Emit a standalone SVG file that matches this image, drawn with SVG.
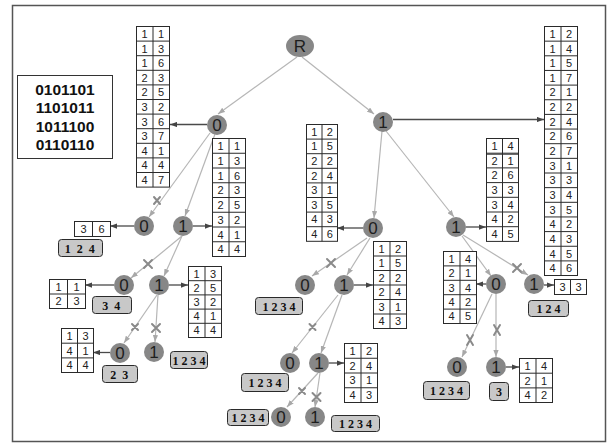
<svg xmlns="http://www.w3.org/2000/svg" width="608" height="444" viewBox="0 0 608 444">
<defs>
<marker id="ag" viewBox="0 0 8 6" refX="8" refY="3" markerWidth="7" markerHeight="5.5" markerUnits="userSpaceOnUse" orient="auto"><path d="M0,0L8,3L0,6z" fill="#a8a8a8"/></marker>
<marker id="ad" viewBox="0 0 8 6" refX="8" refY="3" markerWidth="7" markerHeight="5.5" markerUnits="userSpaceOnUse" orient="auto"><path d="M0,0L8,3L0,6z" fill="#444"/></marker>
<style>
.e{stroke:#b6b6b6;stroke-width:1.2;fill:none;marker-end:url(#ag)}
.a{stroke:#4a4a4a;stroke-width:1.3;fill:none;marker-end:url(#ad)}
.x{stroke:#8a8a8a;stroke-width:2;fill:none;stroke-linecap:round}
.n{fill:#878787}
.nt{font-family:"Liberation Sans",Arial,sans-serif;font-size:17px;fill:#1e1e1e;text-anchor:middle}
.tb{fill:#fff;stroke:#2a2a2a;stroke-width:1}
.gl{stroke:#2a2a2a;stroke-width:1;fill:none}
.c{font-family:"Liberation Sans",Arial,sans-serif;font-size:11px;fill:#222;text-anchor:middle}
.lb{fill:#c8c8c8;stroke:#2a2a2a;stroke-width:1}
.lt{font-family:"Liberation Serif","Times New Roman",serif;font-weight:bold;font-size:12px;fill:#111;text-anchor:middle}
.bt{font-family:"Liberation Sans",Arial,sans-serif;font-weight:bold;font-size:15.5px;fill:#111;text-anchor:middle}
</style>
</defs>
<rect x="0" y="0" width="608" height="444" fill="#fff"/>
<rect x="12.5" y="5.5" width="593" height="436" fill="none" stroke="#555" stroke-width="1.5"/>

<g id="binary">
<rect x="17.5" y="75.5" width="95" height="83" fill="#fff" stroke="#333" stroke-width="1"/>
<text class="bt" x="65" y="95">0101101</text>
<text class="bt" x="65" y="113.3">1101011</text>
<text class="bt" x="65" y="131.6">1011100</text>
<text class="bt" x="65" y="150">0110110</text>
</g>

<g id="connectors">
<line class="e" x1="297" y1="57" x2="218" y2="114"/>
<line class="e" x1="302" y1="57" x2="374" y2="114"/>
<line class="e" x1="210" y1="133" x2="149" y2="217"/>
<line class="e" x1="215" y1="134" x2="185" y2="216"/>
<line class="e" x1="182" y1="236" x2="131" y2="278"/>
<line class="e" x1="182" y1="236" x2="164" y2="276"/>
<line class="e" x1="157" y1="295" x2="124" y2="343"/>
<line class="e" x1="158" y1="295" x2="155" y2="342"/>
<line class="e" x1="382" y1="131" x2="374" y2="218"/>
<line class="e" x1="386" y1="131" x2="454" y2="217"/>
<line class="e" x1="367" y1="238" x2="312" y2="276"/>
<line class="e" x1="370" y1="238" x2="347" y2="275"/>
<line class="e" x1="338" y1="295" x2="292" y2="353"/>
<line class="e" x1="342" y1="295" x2="321" y2="353"/>
<line class="e" x1="318" y1="373" x2="287" y2="407"/>
<line class="e" x1="320" y1="373" x2="315" y2="407"/>
<line class="e" x1="462" y1="236" x2="491" y2="276"/>
<line class="e" x1="463" y1="235" x2="528" y2="275"/>
<line class="e" x1="492" y1="294" x2="462" y2="357"/>
<line class="e" x1="496" y1="294" x2="496" y2="357"/>

<line class="a" x1="207" y1="124.5" x2="170" y2="124.5"/>
<line class="a" x1="193" y1="226" x2="212" y2="226"/>
<line class="a" x1="134" y1="226" x2="110" y2="226"/>
<line class="a" x1="114" y1="285" x2="85" y2="285"/>
<line class="a" x1="169" y1="285" x2="188" y2="285"/>
<line class="a" x1="110" y1="352.5" x2="93" y2="352.5"/>
<line class="a" x1="393" y1="119.5" x2="544" y2="119.5"/>
<line class="a" x1="363" y1="228" x2="337" y2="228"/>
<line class="a" x1="354" y1="285" x2="373" y2="285"/>
<line class="a" x1="466" y1="227" x2="486" y2="227"/>
<line class="a" x1="329" y1="363" x2="344" y2="363"/>
<line class="a" x1="486" y1="284" x2="476" y2="284"/>
<line class="a" x1="544" y1="285" x2="554" y2="285"/>
<line class="a" x1="506" y1="367" x2="519" y2="367"/>

<path class="x" d="M154,197l6,7M160,197l-6,7"/>
<path class="x" d="M144,260l8,8M152,260l-8,8"/>
<path class="x" d="M132,324l6,6M138,324l-6,6"/>
<path class="x" d="M152,324l8,8M160,324l-8,8"/>
<path class="x" d="M327,259l8,8M335,259l-8,8"/>
<path class="x" d="M309.5,324l6,6M315.5,324l-6,6"/>
<path class="x" d="M299,388l6,6M305,388l-6,6"/>
<path class="x" d="M312.5,393l8,8M320.5,393l-8,8"/>
<path class="x" d="M513,264l8,8M521,264l-8,8"/>
<path class="x" d="M467,335l6,10M473,335l-6,10"/>
<path class="x" d="M494,325l6,10M500,325l-6,10"/>
</g>

<g id="nodeR"><ellipse class="n" cx="300" cy="46" rx="14" ry="11"/><text class="nt" x="300" y="52">R</text></g>
<g id="n0"><circle class="n" cx="217" cy="125" r="10"/><text class="nt" x="217" y="131">0</text></g>
<g id="n1"><circle class="n" cx="383" cy="122" r="10"/><text class="nt" x="383" y="128">1</text></g>
<g id="n00"><circle class="n" cx="144" cy="226" r="10"/><text class="nt" x="144" y="232">0</text></g>
<g id="n01"><circle class="n" cx="183" cy="226" r="10"/><text class="nt" x="183" y="232">1</text></g>
<g id="n010"><circle class="n" cx="124" cy="285" r="10"/><text class="nt" x="124" y="291">0</text></g>
<g id="n011"><circle class="n" cx="159" cy="285" r="10"/><text class="nt" x="159" y="291">1</text></g>
<g id="n0110"><circle class="n" cx="120" cy="353" r="10"/><text class="nt" x="120" y="359">0</text></g>
<g id="n0111"><circle class="n" cx="154" cy="352" r="10"/><text class="nt" x="154" y="358">1</text></g>
<g id="n10"><circle class="n" cx="373" cy="228" r="10"/><text class="nt" x="373" y="234">0</text></g>
<g id="n100"><circle class="n" cx="305" cy="285" r="10"/><text class="nt" x="305" y="291">0</text></g>
<g id="n101"><circle class="n" cx="344" cy="285" r="10"/><text class="nt" x="344" y="291">1</text></g>
<g id="n1010"><circle class="n" cx="290" cy="363" r="10"/><text class="nt" x="290" y="369">0</text></g>
<g id="n1011"><circle class="n" cx="319" cy="363" r="10"/><text class="nt" x="319" y="369">1</text></g>
<g id="n10110"><circle class="n" cx="281" cy="417" r="10"/><text class="nt" x="281" y="423">0</text></g>
<g id="n10111"><circle class="n" cx="315" cy="417" r="10"/><text class="nt" x="315" y="423">1</text></g>
<g id="n11"><circle class="n" cx="456" cy="227" r="10"/><text class="nt" x="456" y="233">1</text></g>
<g id="n110"><circle class="n" cx="496" cy="284" r="10"/><text class="nt" x="496" y="290">0</text></g>
<g id="n111"><circle class="n" cx="534" cy="284" r="10"/><text class="nt" x="534" y="290">1</text></g>
<g id="n1100"><circle class="n" cx="457" cy="367" r="10"/><text class="nt" x="457" y="373">0</text></g>
<g id="n1101"><circle class="n" cx="496" cy="367" r="10"/><text class="nt" x="496" y="373">1</text></g>

<g id="t1">
<rect class="tb" x="136.5" y="26.5" width="33" height="160.6"/>
<path class="gl" d="M153,26.5V187.1M136.5,41.1h33M136.5,55.7h33M136.5,70.3h33M136.5,84.9h33M136.5,99.5h33M136.5,114.1h33M136.5,128.7h33M136.5,143.3h33M136.5,157.9h33M136.5,172.5h33"/>
<text class="c" x="144.5" y="38">1</text><text class="c" x="161" y="38">1</text>
<text class="c" x="144.5" y="52.6">1</text><text class="c" x="161" y="52.6">3</text>
<text class="c" x="144.5" y="67.2">1</text><text class="c" x="161" y="67.2">6</text>
<text class="c" x="144.5" y="81.8">2</text><text class="c" x="161" y="81.8">3</text>
<text class="c" x="144.5" y="96.4">2</text><text class="c" x="161" y="96.4">5</text>
<text class="c" x="144.5" y="111">3</text><text class="c" x="161" y="111">2</text>
<text class="c" x="144.5" y="125.6">3</text><text class="c" x="161" y="125.6">6</text>
<text class="c" x="144.5" y="140.2">3</text><text class="c" x="161" y="140.2">7</text>
<text class="c" x="144.5" y="154.8">4</text><text class="c" x="161" y="154.8">1</text>
<text class="c" x="144.5" y="169.4">4</text><text class="c" x="161" y="169.4">4</text>
<text class="c" x="144.5" y="184">4</text><text class="c" x="161" y="184">7</text>
</g>

<g id="t2">
<rect class="tb" x="212.5" y="138.5" width="33" height="118"/>
<path class="gl" d="M229,138.5V256.5M212.5,153.25h33M212.5,168h33M212.5,182.75h33M212.5,197.5h33M212.5,212.25h33M212.5,227h33M212.5,241.75h33"/>
<text class="c" x="220.5" y="150">1</text><text class="c" x="237" y="150">1</text>
<text class="c" x="220.5" y="164.7">1</text><text class="c" x="237" y="164.7">3</text>
<text class="c" x="220.5" y="179.5">1</text><text class="c" x="237" y="179.5">6</text>
<text class="c" x="220.5" y="194.2">2</text><text class="c" x="237" y="194.2">3</text>
<text class="c" x="220.5" y="209">2</text><text class="c" x="237" y="209">5</text>
<text class="c" x="220.5" y="223.7">3</text><text class="c" x="237" y="223.7">2</text>
<text class="c" x="220.5" y="238.5">4</text><text class="c" x="237" y="238.5">1</text>
<text class="c" x="220.5" y="253.2">4</text><text class="c" x="237" y="253.2">4</text>
</g>

<g id="t3">
<rect class="tb" x="74.5" y="221.5" width="36" height="15"/>
<path class="gl" d="M92.5,221.5v15"/>
<text class="c" x="83.5" y="233">3</text><text class="c" x="101.5" y="233">6</text>
</g>

<g id="t4">
<rect class="tb" x="49.5" y="279.5" width="36" height="29"/>
<path class="gl" d="M67.5,279.5v29M49.5,294h36"/>
<text class="c" x="58.5" y="290.7">1</text><text class="c" x="76.5" y="290.7">1</text>
<text class="c" x="58.5" y="305.2">2</text><text class="c" x="76.5" y="305.2">3</text>
</g>

<g id="t5">
<rect class="tb" x="188.5" y="266.5" width="33" height="71"/>
<path class="gl" d="M205,266.5v71M188.5,280.7h33M188.5,294.9h33M188.5,309.1h33M188.5,323.3h33"/>
<text class="c" x="196.5" y="277.6">1</text><text class="c" x="213" y="277.6">3</text>
<text class="c" x="196.5" y="291.8">2</text><text class="c" x="213" y="291.8">5</text>
<text class="c" x="196.5" y="306">3</text><text class="c" x="213" y="306">2</text>
<text class="c" x="196.5" y="320.2">4</text><text class="c" x="213" y="320.2">1</text>
<text class="c" x="196.5" y="334.4">4</text><text class="c" x="213" y="334.4">4</text>
</g>

<g id="t6">
<rect class="tb" x="61.5" y="328.5" width="32" height="44"/>
<path class="gl" d="M77.5,328.5v44M61.5,343.2h32M61.5,357.9h32"/>
<text class="c" x="69.5" y="339.9">1</text><text class="c" x="85.5" y="339.9">3</text>
<text class="c" x="69.5" y="354.6">4</text><text class="c" x="85.5" y="354.6">1</text>
<text class="c" x="69.5" y="369.3">4</text><text class="c" x="85.5" y="369.3">4</text>
</g>

<g id="t7">
<rect class="tb" x="544.5" y="26.5" width="33" height="249"/>
<path class="gl" d="M561,26.5V275.5M544.5,41.15h33M544.5,55.8h33M544.5,70.45h33M544.5,85.1h33M544.5,99.75h33M544.5,114.4h33M544.5,129.05h33M544.5,143.7h33M544.5,158.35h33M544.5,173h33M544.5,187.65h33M544.5,202.3h33M544.5,216.95h33M544.5,231.6h33M544.5,246.25h33M544.5,260.9h33"/>
<text class="c" x="552.5" y="37.8">1</text><text class="c" x="569" y="37.8">2</text>
<text class="c" x="552.5" y="52.5">1</text><text class="c" x="569" y="52.5">4</text>
<text class="c" x="552.5" y="67.1">1</text><text class="c" x="569" y="67.1">5</text>
<text class="c" x="552.5" y="81.8">1</text><text class="c" x="569" y="81.8">7</text>
<text class="c" x="552.5" y="96.4">2</text><text class="c" x="569" y="96.4">1</text>
<text class="c" x="552.5" y="111.1">2</text><text class="c" x="569" y="111.1">2</text>
<text class="c" x="552.5" y="125.7">2</text><text class="c" x="569" y="125.7">4</text>
<text class="c" x="552.5" y="140.4">2</text><text class="c" x="569" y="140.4">6</text>
<text class="c" x="552.5" y="155">2</text><text class="c" x="569" y="155">7</text>
<text class="c" x="552.5" y="169.7">3</text><text class="c" x="569" y="169.7">1</text>
<text class="c" x="552.5" y="184.3">3</text><text class="c" x="569" y="184.3">3</text>
<text class="c" x="552.5" y="199">3</text><text class="c" x="569" y="199">4</text>
<text class="c" x="552.5" y="213.6">3</text><text class="c" x="569" y="213.6">5</text>
<text class="c" x="552.5" y="228.3">4</text><text class="c" x="569" y="228.3">2</text>
<text class="c" x="552.5" y="242.9">4</text><text class="c" x="569" y="242.9">3</text>
<text class="c" x="552.5" y="257.6">4</text><text class="c" x="569" y="257.6">5</text>
<text class="c" x="552.5" y="272.2">4</text><text class="c" x="569" y="272.2">6</text>
</g>

<g id="t8">
<rect class="tb" x="306.5" y="124.5" width="31" height="116.8"/>
<path class="gl" d="M322,124.5V241.3M306.5,139.1h31M306.5,153.7h31M306.5,168.3h31M306.5,182.9h31M306.5,197.5h31M306.5,212.1h31M306.5,226.7h31"/>
<text class="c" x="314.3" y="135.8">1</text><text class="c" x="329.8" y="135.8">2</text>
<text class="c" x="314.3" y="150.4">1</text><text class="c" x="329.8" y="150.4">5</text>
<text class="c" x="314.3" y="165">2</text><text class="c" x="329.8" y="165">2</text>
<text class="c" x="314.3" y="179.6">2</text><text class="c" x="329.8" y="179.6">4</text>
<text class="c" x="314.3" y="194.2">3</text><text class="c" x="329.8" y="194.2">1</text>
<text class="c" x="314.3" y="208.8">3</text><text class="c" x="329.8" y="208.8">5</text>
<text class="c" x="314.3" y="223.4">4</text><text class="c" x="329.8" y="223.4">3</text>
<text class="c" x="314.3" y="238">4</text><text class="c" x="329.8" y="238">6</text>
</g>

<g id="t9">
<rect class="tb" x="486.5" y="138.5" width="32" height="102.9"/>
<path class="gl" d="M502.5,138.5V241.4M486.5,153.2h32M486.5,167.9h32M486.5,182.6h32M486.5,197.3h32M486.5,212h32M486.5,226.7h32"/>
<path class="gl" d="M486.5,154.2h32"/>
<text class="c" x="494.5" y="149.9">1</text><text class="c" x="510.5" y="149.9">4</text>
<text class="c" x="494.5" y="164.6">2</text><text class="c" x="510.5" y="164.6">1</text>
<text class="c" x="494.5" y="179.3">2</text><text class="c" x="510.5" y="179.3">6</text>
<text class="c" x="494.5" y="194">3</text><text class="c" x="510.5" y="194">3</text>
<text class="c" x="494.5" y="208.7">3</text><text class="c" x="510.5" y="208.7">4</text>
<text class="c" x="494.5" y="223.4">4</text><text class="c" x="510.5" y="223.4">2</text>
<text class="c" x="494.5" y="238.1">4</text><text class="c" x="510.5" y="238.1">5</text>
</g>

<g id="t10">
<rect class="tb" x="373.5" y="241.5" width="33" height="87"/>
<path class="gl" d="M390,241.5v87M373.5,256h33M373.5,270.5h33M373.5,285h33M373.5,299.5h33M373.5,314h33"/>
<text class="c" x="381.5" y="252.8">1</text><text class="c" x="398" y="252.8">2</text>
<text class="c" x="381.5" y="267.3">1</text><text class="c" x="398" y="267.3">5</text>
<text class="c" x="381.5" y="281.8">2</text><text class="c" x="398" y="281.8">2</text>
<text class="c" x="381.5" y="296.3">2</text><text class="c" x="398" y="296.3">4</text>
<text class="c" x="381.5" y="310.8">3</text><text class="c" x="398" y="310.8">1</text>
<text class="c" x="381.5" y="325.3">4</text><text class="c" x="398" y="325.3">3</text>
</g>

<g id="t11">
<rect class="tb" x="344.5" y="343.5" width="33" height="59"/>
<path class="gl" d="M361,343.5v59M344.5,358.25h33M344.5,373h33M344.5,387.75h33"/>
<text class="c" x="352.5" y="354.9">1</text><text class="c" x="369" y="354.9">2</text>
<text class="c" x="352.5" y="369.6">2</text><text class="c" x="369" y="369.6">4</text>
<text class="c" x="352.5" y="384.4">3</text><text class="c" x="369" y="384.4">1</text>
<text class="c" x="352.5" y="399.1">4</text><text class="c" x="369" y="399.1">3</text>
</g>

<g id="t12">
<rect class="tb" x="443.5" y="251.5" width="33" height="72"/>
<path class="gl" d="M460,251.5v72M443.5,265.9h33M443.5,280.3h33M443.5,294.7h33M443.5,309.1h33"/>
<text class="c" x="451.5" y="262.7">1</text><text class="c" x="468" y="262.7">4</text>
<text class="c" x="451.5" y="277.1">2</text><text class="c" x="468" y="277.1">1</text>
<text class="c" x="451.5" y="291.5">3</text><text class="c" x="468" y="291.5">4</text>
<text class="c" x="451.5" y="305.9">4</text><text class="c" x="468" y="305.9">2</text>
<text class="c" x="451.5" y="320.3">4</text><text class="c" x="468" y="320.3">5</text>
</g>

<g id="t13">
<rect class="tb" x="554.5" y="279.5" width="32" height="15"/>
<path class="gl" d="M570.5,279.5v15"/>
<text class="c" x="562.5" y="291">3</text><text class="c" x="578.5" y="291">3</text>
</g>

<g id="t14">
<rect class="tb" x="519.5" y="358.5" width="33" height="44"/>
<path class="gl" d="M536,358.5v44M519.5,373.2h33M519.5,387.9h33"/>
<text class="c" x="527.5" y="369.9">1</text><text class="c" x="544" y="369.9">4</text>
<text class="c" x="527.5" y="384.6">2</text><text class="c" x="544" y="384.6">1</text>
<text class="c" x="527.5" y="399.3">4</text><text class="c" x="544" y="399.3">2</text>
</g>

<g id="l1"><rect class="lb" x="58.5" y="239.5" width="44" height="17" rx="3"/><text class="lt" x="80.5" y="252.5" letter-spacing="1.5">1 2 4</text></g>
<g id="l2"><rect class="lb" x="92.5" y="296.5" width="39" height="17" rx="3"/><text class="lt" x="112" y="309.5" letter-spacing="1.5">3 4</text></g>
<g id="l3"><rect class="lb" x="102.5" y="365.5" width="35" height="17" rx="3"/><text class="lt" x="120" y="378.5" letter-spacing="1.5">2 3</text></g>
<g id="l4"><rect class="lb" x="170.5" y="351.5" width="37" height="17" rx="3"/><text class="lt" x="189" y="364.5">1 2 3 4</text></g>
<g id="l5"><rect class="lb" x="255.5" y="297.5" width="47" height="17" rx="3"/><text class="lt" x="279" y="310.5">1 2 3 4</text></g>
<g id="l6"><rect class="lb" x="241.5" y="373.5" width="47" height="18" rx="3"/><text class="lt" x="265" y="387">1 2 3 4</text></g>
<g id="l7"><rect class="lb" x="227.5" y="409.5" width="41" height="16" rx="3"/><text class="lt" x="248" y="422">1 2 3 4</text></g>
<g id="l8"><rect class="lb" x="331.5" y="415.5" width="48" height="16" rx="3"/><text class="lt" x="355.5" y="428">1 2 3 4</text></g>
<g id="l9"><rect class="lb" x="528.5" y="300.5" width="40" height="16" rx="3"/><text class="lt" x="548.5" y="313">1 2 4</text></g>
<g id="l10"><rect class="lb" x="423.5" y="381.5" width="46" height="18" rx="3"/><text class="lt" x="446.5" y="395">1 2 3 4</text></g>
<g id="l11"><rect class="lb" x="489.5" y="382.5" width="19" height="18" rx="3"/><text class="lt" x="499" y="396">3</text></g>
</svg>
